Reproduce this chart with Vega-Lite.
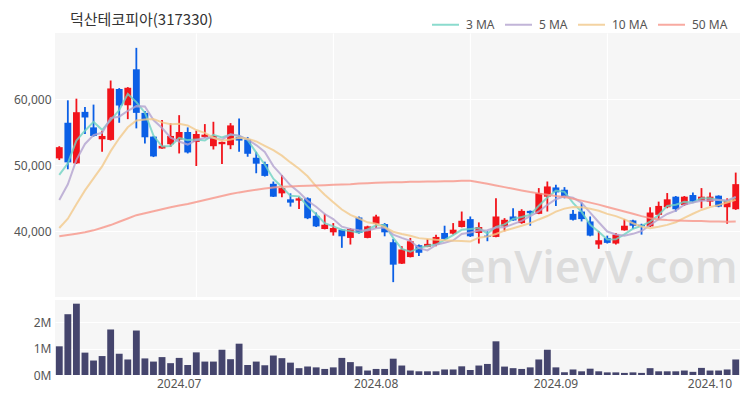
{
  "$schema": "https://vega.github.io/schema/vega-lite/v6.json",
  "background": "white",
  "padding": {"left": 5, "top": 10, "right": 10, "bottom": 5},
  "title": {"text": "덕산테코피아(317330)", "anchor": "start", "font": "Noto Sans CJK KR", "fontSize": 15, "fontWeight": "normal", "color": "#333333", "dx": 65, "dy": 4, "offset": -14},
  "config": {
    "view": {"fill": "#f6f6f6", "stroke": null},
    "axis": {"labelFont": "Noto Sans", "labelFontSize": 12, "labelColor": "#555555", "gridColor": "#ffffff", "gridWidth": 1.2, "domain": false, "ticks": false, "title": null}
  },
  "datasets": {
    "p": [
      {"d":"2024-06-11","o":51000,"h":52850,"l":50750,"c":52700,"v":1090000,"m3":48500,"m5":44700,"m10":40450,"m50":39200},
      {"d":"2024-06-12","o":56400,"h":59800,"l":49350,"c":50400,"v":2310000,"m3":50250,"m5":47080,"m10":41870,"m50":39400},
      {"d":"2024-06-13","o":50250,"h":60050,"l":50150,"c":58000,"v":2710000,"m3":53700,"m5":50780,"m10":44050,"m50":39600},
      {"d":"2024-06-14","o":58050,"h":58800,"l":54700,"c":57200,"v":850000,"m3":55200,"m5":53190,"m10":46150,"m50":39800},
      {"d":"2024-06-17","o":55700,"h":59150,"l":54300,"c":54400,"v":550000,"m3":56530,"m5":54540,"m10":47970,"m50":40100},
      {"d":"2024-06-18","o":53900,"h":55200,"l":52000,"c":54400,"v":720000,"m3":55330,"m5":54880,"m10":49790,"m50":40500},
      {"d":"2024-06-19","o":53800,"h":62800,"l":53700,"c":61600,"v":1730000,"m3":56800,"m5":57120,"m10":52100,"m50":40900},
      {"d":"2024-06-20","o":61500,"h":61650,"l":56400,"c":59000,"v":810000,"m3":58330,"m5":57320,"m10":54050,"m50":41400},
      {"d":"2024-06-21","o":59050,"h":61800,"l":56950,"c":61700,"v":590000,"m3":60770,"m5":58220,"m10":55710,"m50":41900},
      {"d":"2024-06-24","o":64500,"h":67750,"l":55550,"c":57900,"v":1690000,"m3":59530,"m5":58920,"m10":56730,"m50":42400},
      {"d":"2024-06-25","o":57900,"h":58200,"l":53250,"c":54200,"v":630000,"m3":57930,"m5":58880,"m10":56880,"m50":42700},
      {"d":"2024-06-26","o":54300,"h":54400,"l":51200,"c":51300,"v":510000,"m3":54470,"m5":56820,"m10":56970,"m50":43000},
      {"d":"2024-06-27","o":52500,"h":56800,"l":52450,"c":52900,"v":680000,"m3":52800,"m5":55600,"m10":56460,"m50":43300},
      {"d":"2024-06-28","o":53150,"h":56300,"l":52750,"c":54400,"v":450000,"m3":52870,"m5":54140,"m10":56180,"m50":43600},
      {"d":"2024-07-01","o":53850,"h":57550,"l":51750,"c":55000,"v":650000,"m3":54100,"m5":53560,"m10":56240,"m50":43850},
      {"d":"2024-07-02","o":55000,"h":55700,"l":51750,"c":51900,"v":380000,"m3":53770,"m5":53100,"m10":55990,"m50":44100},
      {"d":"2024-07-03","o":53500,"h":55200,"l":49850,"c":54700,"v":860000,"m3":53870,"m5":53780,"m10":55300,"m50":44400},
      {"d":"2024-07-04","o":54250,"h":56200,"l":54100,"c":54600,"v":510000,"m3":53730,"m5":54120,"m10":54860,"m50":44700},
      {"d":"2024-07-05","o":52850,"h":56550,"l":52350,"c":54400,"v":510000,"m3":54570,"m5":54120,"m10":54130,"m50":45000},
      {"d":"2024-07-08","o":53150,"h":53550,"l":50150,"c":53500,"v":960000,"m3":54170,"m5":53820,"m10":53690,"m50":45300},
      {"d":"2024-07-09","o":53000,"h":56350,"l":52400,"c":56000,"v":600000,"m3":54630,"m5":54640,"m10":53870,"m50":45600},
      {"d":"2024-07-10","o":54250,"h":57050,"l":52000,"c":53700,"v":1190000,"m3":54400,"m5":54440,"m10":54110,"m50":45850},
      {"d":"2024-07-11","o":53850,"h":54250,"l":51250,"c":51700,"v":380000,"m3":53800,"m5":53860,"m10":53990,"m50":46050},
      {"d":"2024-07-12","o":51100,"h":52000,"l":48750,"c":50200,"v":510000,"m3":51870,"m5":53020,"m10":53570,"m50":46250},
      {"d":"2024-07-15","o":50150,"h":50500,"l":48250,"c":48350,"v":370000,"m3":50080,"m5":51990,"m10":52910,"m50":46450},
      {"d":"2024-07-16","o":47150,"h":47500,"l":45150,"c":45200,"v":740000,"m3":47920,"m5":49830,"m10":52240,"m50":46600},
      {"d":"2024-07-17","o":45700,"h":48500,"l":45100,"c":46500,"v":640000,"m3":46680,"m5":48390,"m10":51420,"m50":46700},
      {"d":"2024-07-18","o":44800,"h":45700,"l":43700,"c":44300,"v":470000,"m3":45330,"m5":46910,"m10":50390,"m50":46750},
      {"d":"2024-07-19","o":44600,"h":45200,"l":43350,"c":44950,"v":260000,"m3":45250,"m5":45860,"m10":49440,"m50":46800},
      {"d":"2024-07-22","o":44950,"h":45100,"l":41800,"c":41950,"v":320000,"m3":43730,"m5":44580,"m10":48290,"m50":46850},
      {"d":"2024-07-23","o":42300,"h":42800,"l":40600,"c":40700,"v":290000,"m3":42530,"m5":43680,"m10":46760,"m50":46900},
      {"d":"2024-07-24","o":40300,"h":42600,"l":40250,"c":40950,"v":230000,"m3":41200,"m5":42570,"m10":45480,"m50":46950},
      {"d":"2024-07-25","o":39800,"h":41200,"l":39300,"c":40450,"v":290000,"m3":40700,"m5":41800,"m10":44360,"m50":47000},
      {"d":"2024-07-26","o":40200,"h":40250,"l":37450,"c":39200,"v":650000,"m3":40200,"m5":40650,"m10":43260,"m50":47050},
      {"d":"2024-07-29","o":38950,"h":40450,"l":37950,"c":40300,"v":490000,"m3":39980,"m5":40320,"m10":42450,"m50":47100},
      {"d":"2024-07-30","o":42050,"h":42200,"l":39600,"c":39700,"v":330000,"m3":39730,"m5":40120,"m10":41900,"m50":47200},
      {"d":"2024-07-31","o":38950,"h":40800,"l":38900,"c":40700,"v":170000,"m3":40230,"m5":40070,"m10":41320,"m50":47250},
      {"d":"2024-08-01","o":41100,"h":42450,"l":40450,"c":42200,"v":230000,"m3":40870,"m5":40420,"m10":41110,"m50":47300},
      {"d":"2024-08-02","o":41050,"h":41200,"l":39200,"c":39800,"v":230000,"m3":40900,"m5":40540,"m10":40600,"m50":47350},
      {"d":"2024-08-05","o":38300,"h":38800,"l":32250,"c":34900,"v":620000,"m3":38970,"m5":39460,"m10":39890,"m50":47400},
      {"d":"2024-08-06","o":35050,"h":37700,"l":35000,"c":37200,"v":360000,"m3":37300,"m5":38960,"m10":39540,"m50":47400},
      {"d":"2024-08-07","o":36050,"h":38950,"l":36000,"c":38450,"v":170000,"m3":36850,"m5":38510,"m10":39290,"m50":47450},
      {"d":"2024-08-08","o":37850,"h":37950,"l":36200,"c":36700,"v":140000,"m3":37450,"m5":37410,"m10":38920,"m50":47450},
      {"d":"2024-08-09","o":37600,"h":38800,"l":37550,"c":38050,"v":140000,"m3":37730,"m5":37060,"m10":38800,"m50":47500},
      {"d":"2024-08-12","o":37950,"h":39450,"l":37700,"c":39100,"v":140000,"m3":37950,"m5":37900,"m10":38680,"m50":47500},
      {"d":"2024-08-13","o":39700,"h":40800,"l":38600,"c":38800,"v":210000,"m3":38650,"m5":38220,"m10":38590,"m50":47550},
      {"d":"2024-08-14","o":39600,"h":41200,"l":39450,"c":40200,"v":210000,"m3":39370,"m5":38570,"m10":38540,"m50":47550},
      {"d":"2024-08-16","o":40600,"h":42950,"l":40550,"c":41550,"v":330000,"m3":40180,"m5":39540,"m10":38480,"m50":47600},
      {"d":"2024-08-19","o":41800,"h":42200,"l":39100,"c":39200,"v":190000,"m3":40320,"m5":39770,"m10":38420,"m50":47600},
      {"d":"2024-08-20","o":39700,"h":41300,"l":38100,"c":40600,"v":360000,"m3":40450,"m5":40070,"m10":38990,"m50":47400},
      {"d":"2024-08-21","o":39300,"h":39950,"l":38450,"c":39100,"v":420000,"m3":39630,"m5":40130,"m10":39180,"m50":47150},
      {"d":"2024-08-22","o":39100,"h":44950,"l":39050,"c":42200,"v":1280000,"m3":40630,"m5":40530,"m10":39550,"m50":46900},
      {"d":"2024-08-23","o":40700,"h":41950,"l":39950,"c":41700,"v":320000,"m3":41000,"m5":40560,"m10":40050,"m50":46650},
      {"d":"2024-08-26","o":42200,"h":43450,"l":41550,"c":41600,"v":260000,"m3":41830,"m5":41040,"m10":40410,"m50":46400},
      {"d":"2024-08-27","o":41200,"h":43300,"l":41100,"c":43050,"v":230000,"m3":42120,"m5":41530,"m10":40800,"m50":46150},
      {"d":"2024-08-28","o":43050,"h":43100,"l":40800,"c":42700,"v":290000,"m3":42450,"m5":42250,"m10":41190,"m50":45900},
      {"d":"2024-08-29","o":42600,"h":46500,"l":42550,"c":45750,"v":590000,"m3":43830,"m5":42960,"m10":41750,"m50":45700},
      {"d":"2024-08-30","o":45200,"h":47500,"l":42950,"c":46750,"v":960000,"m3":45070,"m5":43970,"m10":42270,"m50":45500},
      {"d":"2024-09-02","o":46600,"h":47000,"l":43800,"c":45850,"v":290000,"m3":46120,"m5":44820,"m10":42930,"m50":45300},
      {"d":"2024-09-03","o":46250,"h":46650,"l":44950,"c":45200,"v":100000,"m3":45930,"m5":45250,"m10":43390,"m50":45150},
      {"d":"2024-09-04","o":42600,"h":43200,"l":41600,"c":41700,"v":210000,"m3":44250,"m5":45050,"m10":43650,"m50":44900},
      {"d":"2024-09-05","o":42950,"h":44300,"l":41450,"c":41800,"v":140000,"m3":42900,"m5":44260,"m10":43610,"m50":44600},
      {"d":"2024-09-06","o":41450,"h":42200,"l":39200,"c":39300,"v":240000,"m3":40930,"m5":42770,"m10":43370,"m50":44300},
      {"d":"2024-09-09","o":37950,"h":39950,"l":37300,"c":38600,"v":140000,"m3":39900,"m5":41320,"m10":43070,"m50":44000},
      {"d":"2024-09-10","o":38950,"h":39300,"l":38100,"c":38200,"v":100000,"m3":38700,"m5":39920,"m10":42590,"m50":43650},
      {"d":"2024-09-11","o":38100,"h":39700,"l":37950,"c":39450,"v":100000,"m3":38750,"m5":39470,"m10":42260,"m50":43300},
      {"d":"2024-09-12","o":40100,"h":41800,"l":40050,"c":40800,"v":80000,"m3":39480,"m5":39270,"m10":41770,"m50":42950},
      {"d":"2024-09-13","o":41600,"h":41700,"l":40300,"c":40800,"v":100000,"m3":40350,"m5":39570,"m10":41170,"m50":42600},
      {"d":"2024-09-19","o":40950,"h":41100,"l":39450,"c":40700,"v":80000,"m3":40770,"m5":39990,"m10":40660,"m50":42250},
      {"d":"2024-09-20","o":40700,"h":43600,"l":40600,"c":42800,"v":260000,"m3":41430,"m5":40910,"m10":40420,"m50":41950},
      {"d":"2024-09-23","o":42450,"h":44450,"l":41700,"c":43800,"v":140000,"m3":42430,"m5":41780,"m10":40630,"m50":41750},
      {"d":"2024-09-24","o":43600,"h":45750,"l":43450,"c":44800,"v":140000,"m3":43800,"m5":42580,"m10":40930,"m50":41650},
      {"d":"2024-09-25","o":45200,"h":45300,"l":42950,"c":43300,"v":140000,"m3":43970,"m5":43080,"m10":41330,"m50":41600},
      {"d":"2024-09-26","o":43950,"h":45300,"l":43800,"c":45200,"v":170000,"m3":44430,"m5":43980,"m10":41990,"m50":41550},
      {"d":"2024-09-27","o":45450,"h":45850,"l":44300,"c":44450,"v":120000,"m3":44320,"m5":44310,"m10":42610,"m50":41500},
      {"d":"2024-09-30","o":44600,"h":46500,"l":43450,"c":45200,"v":270000,"m3":44950,"m5":44590,"m10":43190,"m50":41500},
      {"d":"2024-10-02","o":44450,"h":45850,"l":43800,"c":45200,"v":170000,"m3":44950,"m5":44670,"m10":43630,"m50":41450},
      {"d":"2024-10-04","o":45350,"h":45400,"l":43600,"c":43700,"v":170000,"m3":44700,"m5":44750,"m10":43920,"m50":41450},
      {"d":"2024-10-07","o":43600,"h":44950,"l":41100,"c":44600,"v":210000,"m3":44500,"m5":44630,"m10":44310,"m50":41400},
      {"d":"2024-10-08","o":43300,"h":48850,"l":43200,"c":47100,"v":590000,"m3":45130,"m5":45160,"m10":44740,"m50":41450}
    ]
  },
  "spacing": 3,
  "resolve": {"scale": {"x": "shared", "y": "independent", "color": "independent"}},
  "vconcat": [
    {
      "width": 685,
      "height": 264,
      "layer": [
        {
          "data": {"values": [{"t": "enVievV.com"}]},
          "mark": {"type": "text", "font": "Open Sans", "fontSize": 45, "fontWeight": 600, "color": "#dcdcdc", "align": "center", "baseline": "middle"},
          "encoding": {
            "x": {"datum": "2024-09-09", "type": "ordinal"},
            "y": {"datum": 34300, "type": "quantitative"},
            "text": {"field": "t"}
          }
        },
        {
          "data": {"name": "p"},
          "encoding": {
            "x": {"field": "d", "type": "ordinal", "scale": {"paddingInner": 0.2, "paddingOuter": 0.1},
              "axis": {"values": ["2024-07-03", "2024-07-25", "2024-08-19", "2024-09-10"], "labels": false, "grid": true, "bandPosition": 0.5}},
            "color": {"condition": {"test": "datum.c >= datum.o", "value": "#f2141b"}, "value": "#0b5fe6"}
          },
          "layer": [
            {"mark": {"type": "rule", "strokeWidth": 1.8},
             "encoding": {"y": {"field": "l", "type": "quantitative", "scale": {"domain": [30000, 70000], "zero": false, "nice": false},
               "axis": {"values": [40000, 50000, 60000], "format": ",d", "grid": true, "minExtent": 50, "maxExtent": 50, "labelPadding": 4}},
               "y2": {"field": "h"}}},
            {"mark": {"type": "bar"},
             "encoding": {"y": {"field": "o", "type": "quantitative"}, "y2": {"field": "c"}}}
          ]
        },
        {
          "data": {"name": "p"},
          "transform": [{"fold": ["m3", "m5", "m10", "m50"], "as": ["ma", "val"]}],
          "mark": {"type": "line", "strokeWidth": 2, "opacity": 0.8},
          "encoding": {
            "x": {"field": "d", "type": "ordinal"},
            "y": {"field": "val", "type": "quantitative"},
            "color": {"field": "ma", "type": "nominal",
              "scale": {"domain": ["m3", "m5", "m10", "m50"], "range": ["#6fd3c3", "#b3a3cf", "#f2c98b", "#f7968a"]},
              "legend": {"orient": "none", "legendX": 376, "legendY": -23, "direction": "horizontal", "title": null,
                "symbolType": "stroke", "symbolSize": 729, "symbolStrokeWidth": 2, "labelFont": "Noto Sans", "labelFontSize": 12,
                "labelColor": "#555555", "columnPadding": 6, "labelOffset": 6,
                "labelExpr": "datum.label == 'm3' ? '3 MA' : datum.label == 'm5' ? '5 MA' : datum.label == 'm10' ? '10 MA' : '50 MA'"}}
          }
        }
      ]
    },
    {
      "width": 685,
      "height": 75,
      "data": {"name": "p"},
      "mark": {"type": "bar", "color": "#45456d"},
      "encoding": {
        "x": {"field": "d", "type": "ordinal", "scale": {"paddingInner": 0.2, "paddingOuter": 0.1},
          "axis": {"values": ["2024-07-01", "2024-08-01", "2024-09-02", "2024-10-02"], "labelExpr": "replace(substring(datum.value,0,7),'-','.')", "labelAngle": 0, "labelPadding": 3, "grid": false, "bandPosition": 0.5}},
        "y": {"field": "v", "type": "quantitative", "scale": {"domain": [0, 2850000], "nice": false},
          "axis": {"values": [0, 1000000, 2000000], "format": "~s", "grid": true, "minExtent": 50, "maxExtent": 50, "labelPadding": 4}}
      }
    }
  ]
}
